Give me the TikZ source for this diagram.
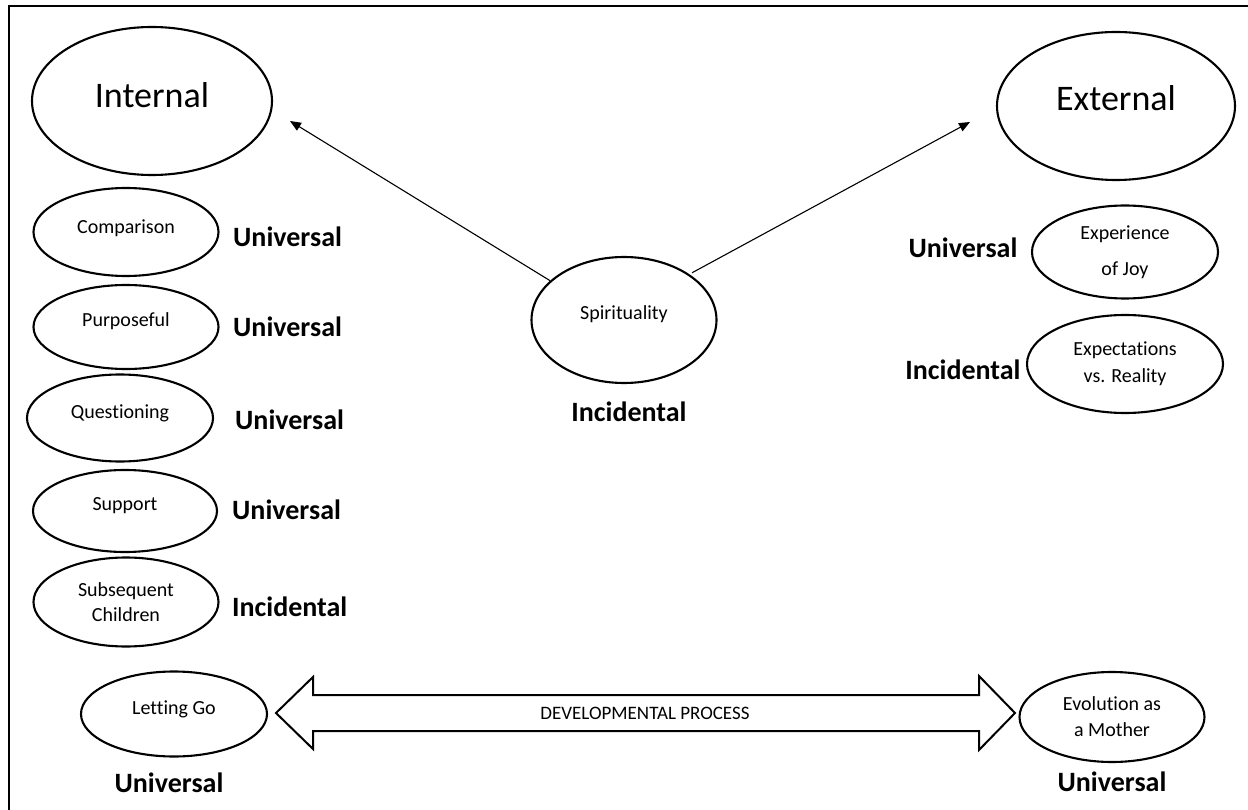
\documentclass[tikz,border=0pt]{standalone}
\usepackage{fontspec}
\setmainfont{Carlito}[Ligatures=NoCommon]
\usetikzlibrary{shapes.geometric,arrows.meta}
\newcommand{\lift}[2]{\raisebox{#1}{#2}}
\tikzset{
  ell/.style={draw, ellipse, line width=2.1pt, inner sep=0pt, align=center, font=\fontsize{20}{26}\selectfont},
  bigell/.style={draw, ellipse, line width=2.1pt, inner sep=0pt, font=\fontsize{36}{40}\selectfont},
  tag/.style={font=\fontsize{28}{30}\selectfont\bfseries, inner sep=0pt},
  conn/.style={line width=1.1pt, -{Triangle[length=11pt,width=9pt]}},
  bigarrow/.style={draw, line width=2pt, line join=miter}
}
\begin{document}
\begin{tikzpicture}[x=1pt,y=-1pt]
\useasboundingbox (0,0) rectangle (1248,810);
% frame (only top and left edges visible)
\draw[line width=2.5pt] (9,812) -- (9,6) -- (1250,6);

% top big ellipses
\node[bigell, minimum width=240, minimum height=148] (internal) at (152,101) {\lift{12pt}{Internal}};
\node[bigell, minimum width=238, minimum height=148] (external) at (1116,106) {\lift{16pt}{External}};

% center
\node[ell, minimum width=185, minimum height=126] (spir) at (624,320) {\lift{14pt}{Spirituality}};
\node[tag] (spirtag) at (629,412) {Incidental};

\coordinate (inTip) at (290,121);
\coordinate (exTip) at (970,122);
\draw[conn] (spir.152) -- (inTip);
\draw[conn, shorten <=3pt] (spir.35) -- (exTip);

% left column
\node[ell, minimum width=185, minimum height=88] (comp) at (126,232) {\lift{10pt}{Comparison}};
\node[tag, anchor=west] (t1) at (233,237) {Universal};
\node[ell, minimum width=185, minimum height=84] (purp) at (126,327) {\lift{14pt}{Purposeful}};
\node[tag, anchor=west] (t2) at (233,327) {Universal};
\node[ell, minimum width=186, minimum height=87] (ques) at (120,418) {\lift{12pt}{Questioning}};
\node[tag, anchor=west] (t3) at (235,420) {Universal};
\node[ell, minimum width=184, minimum height=82] (supp) at (125,511) {\lift{14pt}{Support}};
\node[tag, anchor=west] (t4) at (232,510) {Universal};
\node[ell, minimum width=185, minimum height=89, font=\fontsize{20}{25}\selectfont] (subs) at (126,602) {Subsequent\\Children};
\node[tag, anchor=west] (t5) at (232,607) {Incidental};

% right column
\node[ell, minimum width=186, minimum height=93, font=\fontsize{20}{36}\selectfont] (joy) at (1125,252) {Experience\\of Joy};
\node[tag] (t6) at (963,248) {Universal};
\node[ell, minimum width=196, minimum height=98, font=\fontsize{20}{27}\selectfont] (expe) at (1125,364) {Expectations\\vs. Reality};
\node[tag] (t7) at (963,370) {Incidental};

% bottom
\node[ell, minimum width=186, minimum height=85] (letgo) at (174,714) {\lift{12pt}{Letting Go}};
\node[tag] (t8) at (169,783) {Universal};
\node[ell, minimum width=185, minimum height=90, font=\fontsize{20}{26}\selectfont] (evol) at (1112,717) {Evolution as\\a Mother};
\node[tag] (t9) at (1112,782) {Universal};

\draw[bigarrow] (276,713) -- (313,677) -- (313,695) -- (979,695) -- (979,676) -- (1015,713)
  -- (979,750) -- (979,731) -- (313,731) -- (313,749) -- cycle;
\node[font=\fontsize{19}{20}\selectfont, inner sep=0pt] (dev) at (645,713) {DEVELOPMENTAL PROCESS};
\end{tikzpicture}
\end{document}
